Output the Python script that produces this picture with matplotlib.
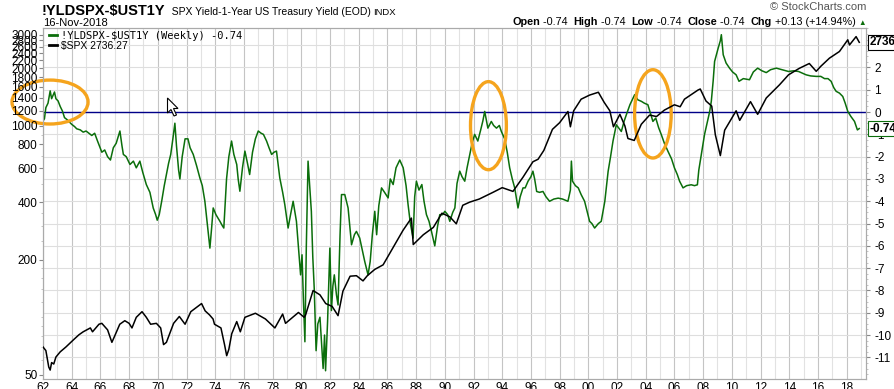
import matplotlib
matplotlib.use('Agg')
import matplotlib.pyplot as plt
import numpy as np
from matplotlib.patches import Ellipse, Polygon
from matplotlib.ticker import FixedLocator, FuncFormatter, NullFormatter, MultipleLocator
from matplotlib.offsetbox import TextArea, HPacker, AnnotationBbox
from matplotlib.transforms import IdentityTransform

plt.rcParams['font.family'] = ['Liberation Sans', 'DejaVu Sans']

# !YLDSPX-$UST1Y spread (right axis), decimal years
spread_yr = [1962.0, 1962.1, 1962.2, 1962.35, 1962.5, 1962.6, 1962.7, 1962.8, 1962.9, 1963.05,
             1963.2, 1963.35, 1963.5, 1963.7, 1964.0, 1964.2, 1964.35, 1964.6, 1964.8, 1965.0,
             1965.2, 1965.4, 1965.6, 1965.8, 1966.1, 1966.3, 1966.5, 1966.7, 1966.9, 1967.1,
             1967.36, 1967.5, 1967.6, 1967.8, 1968.06, 1968.3, 1968.5, 1968.75, 1968.95, 1969.2,
             1969.45, 1969.68, 1969.85, 1969.96, 1970.1, 1970.27, 1970.45, 1970.6, 1970.75, 1970.9,
             1971.05, 1971.19, 1971.3, 1971.45, 1971.54, 1971.7, 1971.9, 1972.1, 1972.25, 1972.47,
             1972.7, 1972.93, 1973.1, 1973.28, 1973.45, 1973.63, 1973.75, 1973.86, 1974.05, 1974.33,
             1974.5, 1974.6, 1974.7, 1974.79, 1974.95, 1975.14, 1975.3, 1975.5, 1975.6, 1975.72,
             1975.9, 1976.07, 1976.25, 1976.4, 1976.6, 1976.8, 1977.0, 1977.2, 1977.36, 1977.58,
             1977.75, 1977.93, 1978.1, 1978.27, 1978.5, 1978.7, 1978.85, 1979.08, 1979.25, 1979.43,
             1979.66, 1979.85, 1979.95, 1980.05, 1980.15, 1980.25, 1980.35, 1980.47, 1980.6, 1980.7,
             1980.8, 1980.9, 1981.03, 1981.15, 1981.3, 1981.42, 1981.52, 1981.62, 1981.69, 1981.83,
             1981.99, 1982.1, 1982.2, 1982.3, 1982.45, 1982.56, 1982.7, 1982.8, 1983.03, 1983.26,
             1983.5, 1983.7, 1983.84, 1984.07, 1984.25, 1984.42, 1984.65, 1984.8, 1984.95, 1985.12,
             1985.25, 1985.4, 1985.59, 1985.8, 1986.05, 1986.2, 1986.4, 1986.6, 1986.86, 1987.1,
             1987.3, 1987.44, 1987.6, 1987.79, 1987.9, 1988.02, 1988.2, 1988.4, 1988.55, 1988.72,
             1988.9, 1989.07, 1989.3, 1989.5, 1989.65, 1989.85, 1990.0, 1990.2, 1990.35, 1990.55,
             1990.7, 1990.85, 1991.04, 1991.2, 1991.39, 1991.55, 1991.74, 1991.9, 1992.08, 1992.3,
             1992.5, 1992.65, 1992.78, 1993.0, 1993.24, 1993.4, 1993.6, 1993.8, 1993.94, 1994.17,
             1994.35, 1994.52, 1994.7, 1994.87, 1995.1, 1995.25, 1995.45, 1995.6, 1995.8, 1996.0,
             1996.14, 1996.26, 1996.4, 1996.6, 1996.84, 1997.05, 1997.3, 1997.6, 1997.9, 1998.2,
             1998.58, 1998.75, 1998.82, 1998.9, 1999.1, 1999.3, 1999.5, 1999.74, 2000.09, 2000.25,
             2000.44, 2000.7, 2000.9, 2001.15, 2001.38, 2001.55, 2001.72, 2001.95, 2002.1, 2002.3,
             2002.5, 2002.65, 2002.9, 2003.1, 2003.23, 2003.45, 2003.7, 2003.9, 2004.15, 2004.35,
             2004.5, 2004.7, 2004.9, 2005.08, 2005.3, 2005.55, 2005.8, 2006.0, 2006.2, 2006.36,
             2006.6, 2006.85, 2007.17, 2007.4, 2007.6, 2007.7, 2007.85, 2007.98, 2008.1, 2008.3,
             2008.45, 2008.57, 2008.7, 2008.8, 2009.05, 2009.2, 2009.27, 2009.4, 2009.6, 2009.84,
             2010.05, 2010.3, 2010.5, 2010.8, 2011.23, 2011.5, 2011.8, 2012.1, 2012.4, 2012.7,
             2013.1, 2013.5, 2013.95, 2014.3, 2014.65, 2015.18, 2015.5, 2015.88, 2016.2, 2016.46,
             2016.7, 2016.92, 2017.1, 2017.27, 2017.5, 2017.73, 2017.9, 2018.08, 2018.3, 2018.55,
             2018.75, 2018.88]
spread_val = [-0.4, -0.3, 0.2, 0.4, 0.95, 0.6, 0.75, 0.9, 0.6, 0.5,
              0.25, 0.05, -0.25, -0.35, -0.55, -0.65, -0.75, -0.8, -0.9, -0.85,
              -0.95, -1.05, -0.95, -1.3, -1.8, -1.7, -2.0, -2.15, -1.6, -1.4,
              -0.85, -1.5, -1.9, -2.0, -2.35, -2.2, -2.5, -2.2, -2.7, -3.25,
              -3.6, -4.3, -4.6, -4.85, -4.6, -4.0, -3.3, -2.8, -2.3, -1.9,
              -1.2, -0.5, -1.5, -2.6, -3.0, -2.0, -1.2, -1.2, -1.6, -1.9,
              -2.4, -2.95, -3.3, -4.0, -5.0, -6.1, -5.2, -4.3, -4.6, -4.9,
              -5.1, -5.2, -4.0, -3.0, -2.0, -1.3, -1.9, -2.35, -3.0, -3.55,
              -2.5, -1.75, -2.3, -2.8, -1.8, -1.2, -0.85, -0.95, -1.0, -1.3,
              -1.6, -1.9, -1.8, -1.75, -2.95, -3.6, -4.15, -5.2, -4.6, -4.0,
              -4.9, -6.5, -7.3, -6.4, -8.5, -10.3, -6.0, -2.2, -3.5, -4.45,
              -6.5, -7.9, -10.7, -9.5, -9.2, -10.5, -11.5, -10.0, -11.6, -9.4,
              -6.1, -8.9, -7.8, -7.3, -8.2, -8.65, -5.5, -3.7, -3.7, -4.3,
              -5.95, -5.5, -5.35, -5.65, -6.2, -6.7, -7.3, -6.7, -5.5, -4.45,
              -5.5, -4.2, -3.4, -3.6, -3.85, -3.0, -3.25, -2.5, -2.15, -2.5,
              -3.3, -4.15, -5.0, -5.65, -3.8, -3.1, -3.5, -3.25, -4.0, -4.6,
              -4.9, -5.35, -6.0, -5.1, -4.6, -4.6, -4.45, -4.6, -4.9, -4.5,
              -4.3, -3.2, -2.65, -2.9, -3.1, -2.5, -1.9, -1.4, -1.0, -1.3,
              -0.8, -0.4, 0.03, -0.72, -0.42, -0.6, -0.72, -0.6, -0.87, -1.2,
              -1.8, -2.5, -3.0, -3.4, -4.3, -3.8, -3.4, -3.4, -3.1, -2.9,
              -2.65, -3.0, -3.56, -3.6, -3.56, -3.8, -4.0, -3.9, -3.86, -3.9,
              -4.0, -3.5, -2.2, -3.1, -3.3, -3.4, -3.7, -4.0, -4.9, -5.0,
              -5.2, -5.0, -4.9, -4.0, -2.66, -2.0, -1.3, -0.57, -0.7, -0.87,
              -0.4, -0.12, 0.33, 0.6, 0.78, 0.55, 0.48, 0.4, 0.33, -0.1,
              -0.42, -0.27, -0.7, -1.0, -1.4, -1.76, -2.1, -2.5, -2.8, -3.1,
              -3.4, -3.3, -3.26, -3.3, -3.26, -2.6, -2.0, -1.46, -1.0, -0.42,
              0.0, 0.48, 1.4, 2.27, 2.87, 3.2, 3.47, 2.57, 2.2, 1.97,
              1.8, 1.67, 1.38, 1.5, 1.45, 1.8, 1.97, 1.85, 1.77, 1.9,
              1.97, 1.9, 1.82, 1.85, 1.82, 1.67, 1.62, 1.6, 1.6, 1.5,
              1.5, 1.38, 1.1, 0.93, 0.85, 0.7, 0.4, 0.03, -0.2, -0.42,
              -0.8, -0.74]

# $SPX (left log axis)
spx_yr = [1962.0, 1962.2, 1962.4, 1962.5, 1962.6, 1962.75, 1962.9, 1963.2, 1963.6, 1964.1,
          1964.5, 1964.8, 1965.3, 1965.45, 1965.9, 1966.1, 1966.5, 1966.8, 1967.0, 1967.35,
          1967.7, 1968.0, 1968.2, 1968.5, 1968.9, 1969.2, 1969.5, 1969.9, 1970.2, 1970.4,
          1970.6, 1971.1, 1971.5, 1971.9, 1972.3, 1973.05, 1973.3, 1973.6, 1973.85, 1973.95,
          1974.4, 1974.65, 1974.8, 1974.95, 1975.15, 1975.5, 1975.75, 1976.07, 1976.8, 1977.5,
          1978.16, 1978.7, 1978.9, 1979.4, 1979.8, 1980.2, 1980.3, 1980.82, 1981.3, 1981.7,
          1982.15, 1982.56, 1982.9, 1983.4, 1983.84, 1984.3, 1984.6, 1985.12, 1985.7, 1986.4,
          1987.09, 1987.67, 1987.8, 1988.5, 1989.2, 1989.8, 1990.35, 1990.8, 1991.25, 1991.74,
          1992.4, 1993.36, 1994.0, 1994.75, 1995.45, 1996.14, 1996.5, 1996.9, 1997.5, 1998.0,
          1998.58, 1998.75, 1998.98, 1999.5, 2000.09, 2000.7, 2001.1, 2001.5, 2001.75, 2002.2,
          2002.55, 2002.76, 2003.2, 2003.69, 2004.27, 2004.75, 2005.3, 2006.0, 2006.4, 2006.7,
          2007.64, 2007.8, 2008.2, 2008.6, 2008.85, 2009.2, 2009.5, 2010.3, 2010.55, 2011.3,
          2011.8, 2012.4, 2013.32, 2013.95, 2014.7, 2015.4, 2015.88, 2016.2, 2016.8, 2017.5,
          2018.08, 2018.2, 2018.66, 2018.88]
spx_val = [70, 67, 55, 53, 58, 57, 62, 66, 70, 76,
           81, 84, 88, 84, 92, 93, 86, 74, 80, 92,
           96, 93, 88, 100, 107, 100, 92, 93, 88, 72,
           74, 93, 101, 92, 107, 118, 108, 103, 98, 92,
           88, 72, 63, 68, 82, 95, 84, 100, 105, 98,
           88, 104, 93, 100, 106, 100, 103, 138, 131, 118,
           114, 102, 137, 164, 165, 155, 165, 178, 188, 232,
           285, 330, 240, 270, 295, 350, 335, 308, 385, 400,
           415, 450, 476, 455, 540, 650, 670, 745, 960, 1040,
           1190, 990, 1200, 1380, 1450, 1500, 1330, 1200, 990, 1150,
           1000, 860, 840, 1020, 1140, 1120, 1210, 1290, 1260, 1380,
           1540, 1560, 1350, 1270, 900, 700, 950, 1200, 1070, 1340,
           1150, 1400, 1640, 1850, 2000, 2120, 1930, 2050, 2260, 2450,
           2820, 2650, 2930, 2736.27]

left_ticks = [50, 200, 400, 600, 800, 1000, 1200, 1400, 1600, 1800, 2000, 2200, 2400, 2600, 2800, 3000]
right_ticks = list(range(-11, 4))
year_ticks = list(range(1962, 2019, 2))

fig = plt.figure(figsize=(8.95, 3.89), dpi=100)
ax = fig.add_axes([43/895, 10/389, 823/895, 351/389])
ax2 = ax.twinx()

green = '#0b6e0b'
ax.plot(spread_yr, spread_val, color=green, lw=1.1, zorder=3)
ax.axhline(0, color='#000088', lw=1.0, zorder=2)
ax2.plot(spx_yr, spx_val, color='black', lw=1.1, zorder=3)

ax.set_xlim(1962, 2019.35)
ax.set_ylim(-11.97, 3.77)
ax2.set_yscale('log')
ax2.set_ylim(47.6, 3250)

# axis sides: spread on right, SPX on left
ax.yaxis.tick_right()
ax2.yaxis.tick_left()
ax.yaxis.set_major_locator(FixedLocator(right_ticks))
ax.yaxis.set_minor_locator(MultipleLocator(0.25))
ax.yaxis.set_major_formatter(FuncFormatter(lambda v, p: f'{int(v)}'))
ax2.yaxis.set_major_locator(FixedLocator(left_ticks))
ax2.yaxis.set_major_formatter(FuncFormatter(lambda v, p: f'{int(v)}'))
ax2.yaxis.set_minor_locator(FixedLocator([60, 70, 80, 90, 100, 120, 140, 160, 180, 250, 300, 350, 500, 700, 900]))
ax2.yaxis.set_minor_formatter(NullFormatter())

ax.xaxis.set_major_locator(FixedLocator(year_ticks))
ax.xaxis.set_minor_locator(MultipleLocator(1))
ax.xaxis.set_major_formatter(FuncFormatter(lambda v, p: f'{int(round(v)) % 100:02d}'))

ax.tick_params(axis='x', which='both', length=0, pad=2, labelsize=8.5)
ax.tick_params(axis='y', which='major', length=3, pad=3, labelsize=8.5, color='#888888')
ax.tick_params(axis='y', which='minor', length=1.5, color='#bbbbbb')
ax2.tick_params(axis='y', which='major', length=3, pad=1, labelsize=8.5, color='#888888')
ax2.tick_params(axis='y', which='minor', length=1.5, color='#bbbbbb')

ax.grid(True, axis='x', which='major', color='#c4c4c4', lw=0.8)
ax.grid(True, axis='x', which='minor', color='#e2e2e2', lw=0.8)
ax.grid(True, axis='y', which='major', color='#dedede', lw=0.8)
ax.set_axisbelow(True)
for a in (ax, ax2):
    for s in a.spines.values():
        s.set_color('#aaaaaa')
        s.set_linewidth(0.8)

# highlight ellipses
for cx, cy, w, h in [(1962.49, 0.45, 5.3, 1.97), (1993.04, -0.61, 2.5, 3.95), (2004.5, -0.08, 2.55, 3.96)]:
    ax.add_patch(Ellipse((cx, cy), w, h, fill=False, ec='#f5a41d', lw=2.4, zorder=6, clip_on=False))

# last value tags
ax2.text(1.004, 2736.27, '2736.27', transform=ax2.get_yaxis_transform(), va='center', ha='left',
         fontsize=8.5, fontweight='bold', bbox=dict(boxstyle='square,pad=0.12', fc='white', ec='black', lw=0.8),
         clip_on=False, zorder=10)
ax.text(1.004, -0.74, '-0.74', transform=ax.get_yaxis_transform(), va='center', ha='left',
        fontsize=8.5, fontweight='bold', bbox=dict(boxstyle='square,pad=0.12', fc='white', ec=green, lw=0.8),
        clip_on=False, zorder=10)

# legend
leg = ax2.legend([plt.Line2D([], [], color=green, lw=2), plt.Line2D([], [], color='black', lw=2)],
                 ['!YLDSPX-$UST1Y (Weekly) -0.74', '$SPX 2736.27'], loc='upper left',
                 bbox_to_anchor=(0.0, 1.01), frameon=False, fontsize=7.5, handlelength=0.7,
                 handletextpad=0.4, labelspacing=0.0, borderaxespad=0.2)
leg.get_texts()[0].set_family('DejaVu Sans Mono')
leg.get_texts()[0].set_fontsize(7.5)

# mouse cursor
cur = np.array([[0, 0], [0, 15], [3.5, 11.5], [6.5, 18], [9, 17], [6, 10.5], [10.5, 10.5]])
cur = cur + [167.5, 98]
fig.add_artist(Polygon(np.c_[cur[:, 0], 389 - cur[:, 1]], closed=True, fc='white', ec='black', lw=0.8,
                       transform=IdentityTransform(), zorder=20))


def packed(parts, xy, halign):
    boxes = [TextArea(t, textprops=dict(fontsize=s, fontweight=w, color=c)) for t, s, w, c in parts]
    pack = HPacker(children=boxes, align='baseline', pad=0, sep=0)
    fig.add_artist(AnnotationBbox(pack, xy, xycoords='figure pixels', box_alignment=(halign, 0.5),
                                  frameon=False, pad=0))


packed([('!YLDSPX-$UST1Y', 10.5, 'bold', 'black'),
        ('  SPX Yield-1-Year US Treasury Yield (EOD) ', 7.5, 'normal', 'black'),
        ('INDX', 6.8, 'normal', 'black')], (42, 378), 0)
fig.text(43/895, 1 - 23/389, '16-Nov-2018', fontsize=8, va='center', ha='left')
fig.text(866/895, 1 - 7/389, '\u00a9 StockCharts.com', fontsize=8, va='center', ha='right', color='#555555')
packed([('Open', 7.8, 'bold', 'black'), (' -0.74  ', 7.8, 'normal', 'black'),
        ('High', 7.8, 'bold', 'black'), (' -0.74  ', 7.8, 'normal', 'black'),
        ('Low', 7.8, 'bold', 'black'), (' -0.74  ', 7.8, 'normal', 'black'),
        ('Close', 7.8, 'bold', 'black'), (' -0.74  ', 7.8, 'normal', 'black'),
        ('Chg', 7.8, 'bold', 'black'), (' +0.13 (+14.94%) ', 7.8, 'normal', 'black'),
        ('\u25b2', 5.5, 'normal', green)], (866, 367), 1)

fig.savefig('out.png', dpi=100)
